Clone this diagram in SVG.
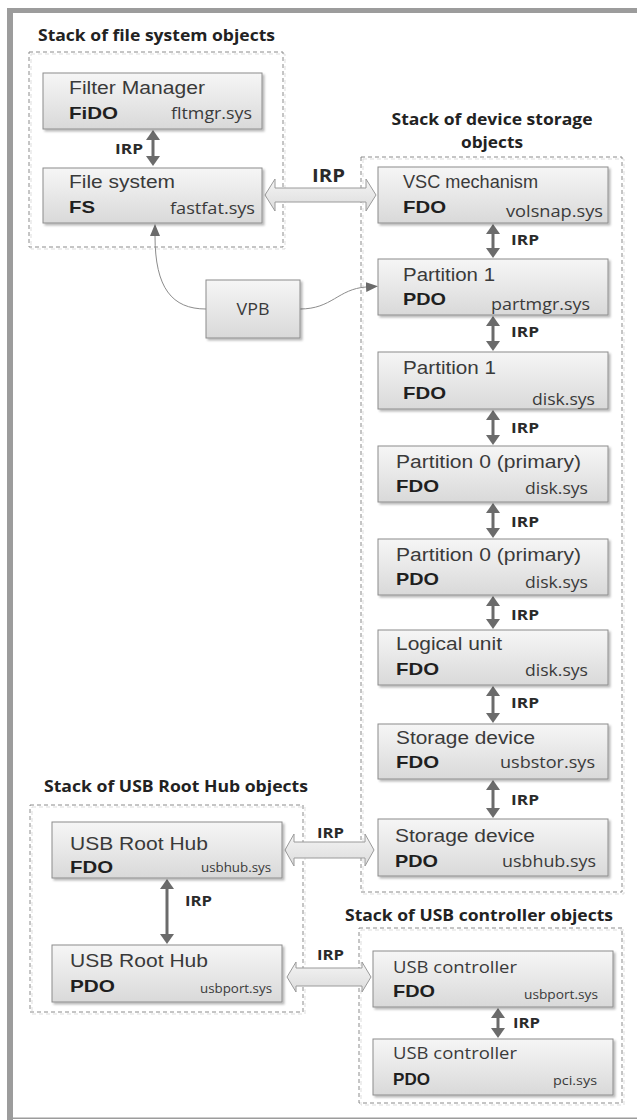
<svg xmlns="http://www.w3.org/2000/svg" width="637" height="1120" viewBox="0 0 637 1120">
<defs>
<linearGradient id="g" x1="0" y1="0" x2="0" y2="1"><stop offset="0" stop-color="#f6f6f6"/><stop offset="1" stop-color="#d9d9d9"/></linearGradient>
<linearGradient id="bg" x1="0" y1="0" x2="0" y2="1"><stop offset="0" stop-color="#f4f4f4"/><stop offset="1" stop-color="#dcdcdc"/></linearGradient>
<filter id="sh" x="-5%" y="-5%" width="115%" height="130%"><feDropShadow dx="2" dy="2" stdDeviation="1.2" flood-color="#000" flood-opacity="0.28"/></filter>
<marker id="ah" viewBox="0 0 10 14" refX="5" refY="7" markerWidth="10" markerHeight="14" markerUnits="userSpaceOnUse" orient="auto-start-reverse"><path d="M0,0 L10,7 L0,14 z" fill="#6b6b6b"/></marker>
<marker id="ca" viewBox="0 0 12 10" refX="0" refY="5" markerWidth="12" markerHeight="10" markerUnits="userSpaceOnUse" orient="auto"><path d="M0,0 L12,5 L0,10 z" fill="#6b6b6b"/></marker>
</defs>
<style>
.n{fill:url(#g);stroke:#8c8c8c;stroke-width:1;filter:url(#sh)}
.t{font-family:"Liberation Sans",Arial,sans-serif;font-size:17.5px;fill:#3a3a3a}
.c{font-family:"Liberation Sans",Arial,sans-serif;font-weight:bold;font-size:17px;fill:#1f1f1f}
.s{font-family:"Open Sans",sans-serif;font-size:16px;fill:#3a3a3a;text-anchor:end}
.ss{font-size:13.5px}
.h{font-family:"Open Sans",sans-serif;font-weight:bold;font-size:16px;fill:#222}
.i{font-family:"Open Sans",sans-serif;font-weight:bold;font-size:15px;fill:#2a2a2a}
.d{fill:none;stroke:#8c8c8c;stroke-width:1;stroke-dasharray:4 3}
.dl{fill:none;stroke:#dddddd;stroke-width:1;stroke-dasharray:4 3}
.va{stroke:#6b6b6b;stroke-width:3;marker-start:url(#ah);marker-end:url(#ah)}
.ba{fill:url(#bg);stroke:#9a9a9a;stroke-width:1}
.cv{fill:none;stroke:#8c8c8c;stroke-width:1;marker-end:url(#ca)}
.fr{fill:#9c9c9c}
</style>
<rect width="637" height="1120" fill="#ffffff"/>
<g id="frame">
<rect class="fr" x="8" y="8" width="629" height="5"/>
<rect class="fr" x="7" y="8" width="6" height="1112"/>
<rect class="fr" x="7" y="1117.5" width="630" height="1.5"/>
</g>
<g id="stacks">
<rect class="dl" x="31" y="54" width="254" height="195"/>
<rect class="d" x="29" y="52" width="254" height="195"/>
<rect class="dl" x="363" y="159" width="261" height="735"/>
<rect class="d" x="361" y="157" width="261" height="735"/>
<rect class="dl" x="32" y="807" width="273" height="207"/>
<rect class="d" x="30" y="805" width="273" height="207"/>
<rect class="dl" x="361" y="930" width="263" height="175"/>
<rect class="d" x="359" y="928" width="263" height="175"/>
<text class="h" x="38" y="41" textLength="237" lengthAdjust="spacingAndGlyphs">Stack of file system objects</text>
<text class="h" x="492" y="125" text-anchor="middle" textLength="201" lengthAdjust="spacingAndGlyphs">Stack of device storage</text>
<text class="h" x="492" y="148" text-anchor="middle" textLength="62" lengthAdjust="spacingAndGlyphs">objects</text>
<text class="h" x="44" y="792" textLength="264" lengthAdjust="spacingAndGlyphs">Stack of USB Root Hub objects</text>
<text class="h" x="345" y="921" textLength="268" lengthAdjust="spacingAndGlyphs">Stack of USB controller objects</text>
</g>
<g id="connectors">
<line class="va" x1="153" y1="135" x2="153" y2="161"/>
<line class="va" x1="493" y1="229" x2="493" y2="253"/>
<line class="va" x1="493" y1="321" x2="493" y2="346"/>
<line class="va" x1="493" y1="415" x2="493" y2="440"/>
<line class="va" x1="493" y1="508" x2="493" y2="533"/>
<line class="va" x1="493" y1="601" x2="493" y2="624"/>
<line class="va" x1="493" y1="691" x2="493" y2="718"/>
<line class="va" x1="493" y1="785" x2="493" y2="813"/>
<line class="va" x1="167" y1="884" x2="167" y2="939"/>
<line class="va" x1="498" y1="1013" x2="498" y2="1033"/>
<path class="ba" d="M265,195 L275,179 L275,188 L366,188 L366,179 L376,195 L366,211 L366,202 L275,202 L275,211 Z"/>
<path class="ba" d="M285,850 L294,834 L294,842 L365,842 L365,834 L374,850 L365,866 L365,858 L294,858 L294,866 Z"/>
<path class="ba" d="M287,977 L296,962 L296,968 L362,968 L362,962 L371,977 L362,992 L362,986 L296,986 L296,992 Z"/>
<path class="cv" d="M206,309 C172,309 155,288 155,236"/>
<path class="cv" d="M300,309 C332,309 338,289 366,287"/>
<text class="i" x="115" y="154" textLength="28" lengthAdjust="spacingAndGlyphs">IRP</text>
<text class="i" x="511" y="245" textLength="28" lengthAdjust="spacingAndGlyphs">IRP</text>
<text class="i" x="511" y="337" textLength="28" lengthAdjust="spacingAndGlyphs">IRP</text>
<text class="i" x="511" y="433" textLength="28" lengthAdjust="spacingAndGlyphs">IRP</text>
<text class="i" x="511" y="527" textLength="28" lengthAdjust="spacingAndGlyphs">IRP</text>
<text class="i" x="511" y="620" textLength="28" lengthAdjust="spacingAndGlyphs">IRP</text>
<text class="i" x="511" y="708" textLength="28" lengthAdjust="spacingAndGlyphs">IRP</text>
<text class="i" x="511" y="805" textLength="28" lengthAdjust="spacingAndGlyphs">IRP</text>
<text class="i" x="185" y="906" textLength="27" lengthAdjust="spacingAndGlyphs">IRP</text>
<text class="i" x="513" y="1028" textLength="27" lengthAdjust="spacingAndGlyphs">IRP</text>
<text class="i" x="312" y="182" style="font-size:17px" textLength="33" lengthAdjust="spacingAndGlyphs">IRP</text>
<text class="i" x="317" y="838" textLength="27" lengthAdjust="spacingAndGlyphs">IRP</text>
<text class="i" x="317" y="960" textLength="27" lengthAdjust="spacingAndGlyphs">IRP</text>
</g>
<g id="fltmgr">
<rect class="n" x="43" y="73" width="219" height="56"/>
<text class="t" x="69" y="94" textLength="136" lengthAdjust="spacingAndGlyphs">Filter Manager</text>
<text class="c" x="69" y="119" textLength="49" lengthAdjust="spacingAndGlyphs">FiDO</text>
<text class="s" x="252" y="119" textLength="81" lengthAdjust="spacingAndGlyphs">fltmgr.sys</text>
</g>
<g id="filesystem">
<rect class="n" x="43" y="168" width="219" height="55"/>
<text class="t" x="69" y="188" textLength="106" lengthAdjust="spacingAndGlyphs">File system</text>
<text class="c" x="69" y="213" textLength="26" lengthAdjust="spacingAndGlyphs">FS</text>
<text class="s" x="255" y="214" textLength="85" lengthAdjust="spacingAndGlyphs">fastfat.sys</text>
</g>
<g id="vpb">
<rect class="n" x="206" y="280" width="94" height="58"/>
<text class="t" x="253" y="315" text-anchor="middle" style="font-family:'Open Sans',sans-serif;font-size:17px" textLength="33" lengthAdjust="spacingAndGlyphs">VPB</text>
</g>
<g id="vsc">
<rect class="n" x="378" y="167" width="230" height="56"/>
<text class="t" x="403" y="188" textLength="135" lengthAdjust="spacingAndGlyphs">VSC mechanism</text>
<text class="c" x="403" y="213" textLength="43" lengthAdjust="spacingAndGlyphs">FDO</text>
<text class="s" x="603" y="217" textLength="97" lengthAdjust="spacingAndGlyphs">volsnap.sys</text>
</g>
<g id="p1pdo">
<rect class="n" x="378" y="259" width="230" height="56"/>
<text class="t" x="403" y="281" textLength="92" lengthAdjust="spacingAndGlyphs">Partition 1</text>
<text class="c" x="403" y="305" textLength="43" lengthAdjust="spacingAndGlyphs">PDO</text>
<text class="s" x="590" y="310" textLength="99" lengthAdjust="spacingAndGlyphs">partmgr.sys</text>
</g>
<g id="p1fdo">
<rect class="n" x="378" y="352" width="230" height="57"/>
<text class="t" x="403" y="374" textLength="93" lengthAdjust="spacingAndGlyphs">Partition 1</text>
<text class="c" x="403" y="399" textLength="43" lengthAdjust="spacingAndGlyphs">FDO</text>
<text class="s" x="595" y="405" textLength="63" lengthAdjust="spacingAndGlyphs">disk.sys</text>
</g>
<g id="p0fdo">
<rect class="n" x="378" y="446" width="230" height="56"/>
<text class="t" x="396" y="468" textLength="185" lengthAdjust="spacingAndGlyphs">Partition 0 (primary)</text>
<text class="c" x="396" y="492" textLength="43" lengthAdjust="spacingAndGlyphs">FDO</text>
<text class="s" x="588" y="494" textLength="63" lengthAdjust="spacingAndGlyphs">disk.sys</text>
</g>
<g id="p0pdo">
<rect class="n" x="378" y="539" width="230" height="56"/>
<text class="t" x="396" y="561" textLength="185" lengthAdjust="spacingAndGlyphs">Partition 0 (primary)</text>
<text class="c" x="396" y="585" textLength="43" lengthAdjust="spacingAndGlyphs">PDO</text>
<text class="s" x="588" y="588" textLength="63" lengthAdjust="spacingAndGlyphs">disk.sys</text>
</g>
<g id="lu">
<rect class="n" x="378" y="630" width="230" height="55"/>
<text class="t" x="396" y="650" textLength="106" lengthAdjust="spacingAndGlyphs">Logical unit</text>
<text class="c" x="396" y="675" textLength="43" lengthAdjust="spacingAndGlyphs">FDO</text>
<text class="s" x="588" y="676" textLength="63" lengthAdjust="spacingAndGlyphs">disk.sys</text>
</g>
<g id="sdfdo">
<rect class="n" x="378" y="724" width="230" height="55"/>
<text class="t" x="396" y="744" textLength="139" lengthAdjust="spacingAndGlyphs">Storage device</text>
<text class="c" x="396" y="768" textLength="43" lengthAdjust="spacingAndGlyphs">FDO</text>
<text class="s" x="595" y="768" textLength="95" lengthAdjust="spacingAndGlyphs">usbstor.sys</text>
</g>
<g id="sdpdo">
<rect class="n" x="378" y="819" width="230" height="57"/>
<text class="t" x="395" y="842" textLength="140" lengthAdjust="spacingAndGlyphs">Storage device</text>
<text class="c" x="395" y="867" textLength="43" lengthAdjust="spacingAndGlyphs">PDO</text>
<text class="s" x="596" y="867" textLength="94" lengthAdjust="spacingAndGlyphs">usbhub.sys</text>
</g>
<g id="rhfdo">
<rect class="n" x="52" y="822" width="230" height="56"/>
<text class="t" x="70" y="850" style="font-size:18px" textLength="138" lengthAdjust="spacingAndGlyphs">USB Root Hub</text>
<text class="c" x="70" y="873" textLength="43" lengthAdjust="spacingAndGlyphs">FDO</text>
<text class="s ss" x="271" y="872" textLength="70" lengthAdjust="spacingAndGlyphs">usbhub.sys</text>
</g>
<g id="rhpdo">
<rect class="n" x="52" y="945" width="230" height="57"/>
<text class="t" x="70" y="967" style="font-size:18px" textLength="138" lengthAdjust="spacingAndGlyphs">USB Root Hub</text>
<text class="c" x="70" y="992" textLength="45" lengthAdjust="spacingAndGlyphs">PDO</text>
<text class="s ss" x="272" y="993" textLength="72" lengthAdjust="spacingAndGlyphs">usbport.sys</text>
</g>
<g id="ucfdo">
<rect class="n" x="373" y="951" width="240" height="56"/>
<text class="t" x="393" y="973" style="font-family:'Open Sans',sans-serif;font-size:17px" textLength="124" lengthAdjust="spacingAndGlyphs">USB controller</text>
<text class="c" x="393" y="997" textLength="42" lengthAdjust="spacingAndGlyphs">FDO</text>
<text class="s ss" x="598" y="999" textLength="74" lengthAdjust="spacingAndGlyphs">usbport.sys</text>
</g>
<g id="ucpdo">
<rect class="n" x="373" y="1039" width="240" height="56"/>
<text class="t" x="393" y="1059" style="font-family:'Open Sans',sans-serif;font-size:17px" textLength="124" lengthAdjust="spacingAndGlyphs">USB controller</text>
<text class="c" x="393" y="1085" textLength="37" lengthAdjust="spacingAndGlyphs">PDO</text>
<text class="s ss" x="597" y="1085" textLength="44" lengthAdjust="spacingAndGlyphs">pci.sys</text>
</g>
</svg>
